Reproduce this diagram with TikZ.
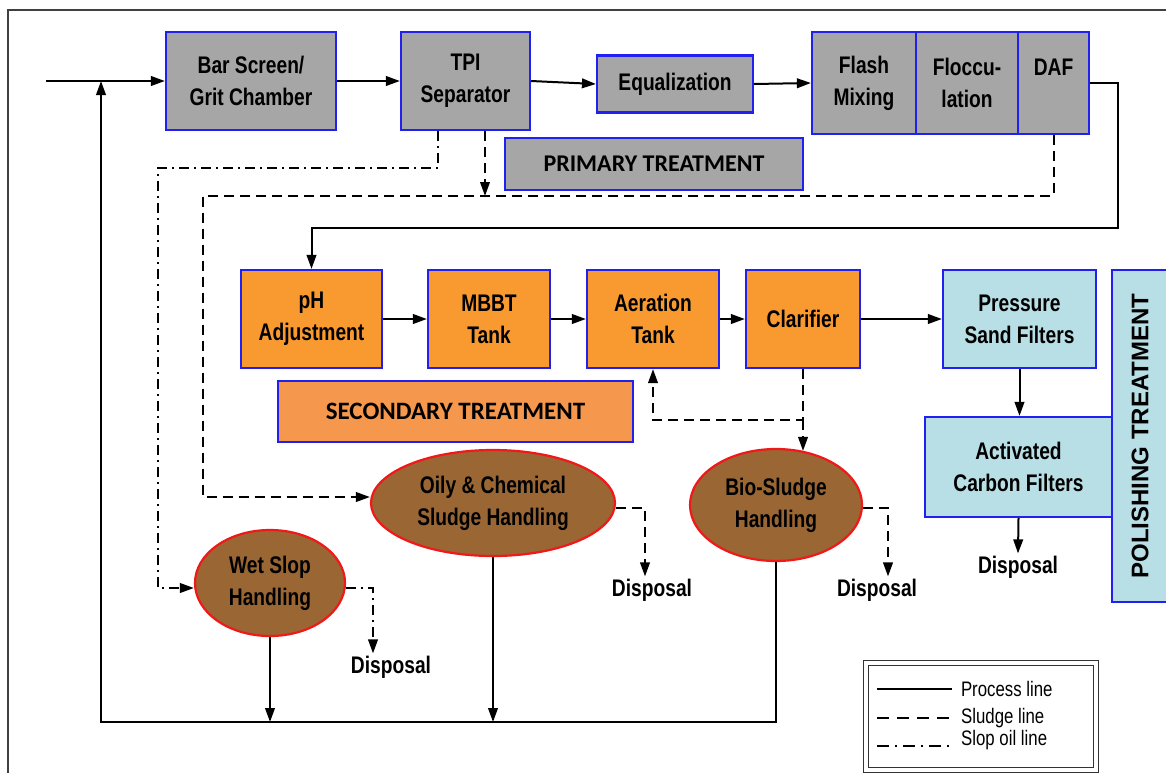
\documentclass[tikz,border=0pt]{standalone}
\usepackage{fontspec}
\setmainfont{Liberation Sans}
\newfontfamily\narrowfont[FakeStretch=0.8]{Liberation Sans}
\newfontfamily\titlefont{Carlito}
\usetikzlibrary{positioning,arrows.meta,calc,shapes.geometric}
\definecolor{boxgray}{HTML}{A6A6A6}
\definecolor{boxblue}{HTML}{2020F0}
\definecolor{unitorange}{HTML}{F89A2F}
\definecolor{titleorange}{HTML}{F5984D}
\definecolor{filtblue}{HTML}{B8DFE6}
\definecolor{sludgebrown}{HTML}{9A6633}
\definecolor{rimred}{HTML}{F01818}
\tikzset{
  unit/.style={draw=boxblue,line width=1.1pt,inner sep=0pt,align=center,
    font=\narrowfont\bfseries\fontsize{12}{16}\selectfont},
  primunit/.style={unit,fill=boxgray},
  secunit/.style={unit,fill=unitorange},
  polunit/.style={unit,fill=filtblue},
  stagelbl/.style={draw=boxblue,line width=1.1pt,inner sep=0pt,
    font=\titlefont\bfseries\fontsize{12.5}{14}\selectfont},
  handler/.style={ellipse,draw=rimred,fill=sludgebrown,line width=1.1pt,inner sep=0pt,
    align=center,font=\narrowfont\bfseries\fontsize{12}{16}\selectfont},
  dispo/.style={inner sep=1pt,font=\narrowfont\bfseries\fontsize{12}{14}\selectfont},
  flow/.style={-{Triangle[length=7pt,width=4.8pt]},line width=1pt},
  sludge/.style={flow,dash pattern=on 5pt off 3pt},
  slop/.style={flow,dash pattern=on 5pt off 2.5pt on 1pt off 2.5pt},
  legtxt/.style={anchor=west,inner sep=0pt,font=\narrowfont\fontsize{10.5}{12}\selectfont},
}
\begin{document}
\begin{tikzpicture}[x=0.5pt,y=-0.5pt]
  \useasboundingbox (0,0) rectangle (1166,772);
  % outer frame (cut at right and bottom)
  \draw[line width=1pt,black!75] (1175,10) -- (8,10) -- (8,780);

  % primary treatment
  \node[primunit,minimum width=85pt,minimum height=49pt] (bar) at (251,81) {Bar Screen/\\Grit Chamber};
  \node[primunit,minimum width=64.5pt,minimum height=49pt] (tpi) at (465.5,81) {TPI\\Separator};
  \node[primunit,minimum width=78pt,minimum height=28.5pt] (eq) at (675,84) {Equalization};
  \node[primunit,minimum width=52pt,minimum height=51pt] (flash) at (864,83) {Flash\\Mixing};
  \node[primunit,minimum width=51pt,minimum height=51pt] (flocc) at (967,83) {Floccu-\\lation};
  \node[primunit,minimum width=35.5pt,minimum height=51pt] (daf) at (1053.5,83) {DAF\\\phantom{X}};
  \node[stagelbl,fill=boxgray,minimum width=149pt,minimum height=26pt,
    font=\titlefont\bfseries\fontsize{12}{14}\selectfont] (prim) at (654,164) {PRIMARY TREATMENT};

  % secondary treatment
  \node[secunit,minimum width=70.5pt,minimum height=49pt] (ph) at (311.5,319) {pH\\Adjustment};
  \node[secunit,minimum width=61pt,minimum height=49pt] (mbbt) at (489,319) {MBBT\\Tank};
  \node[secunit,minimum width=66pt,minimum height=49pt] (aer) at (653,319) {Aeration\\Tank};
  \node[secunit,minimum width=57pt,minimum height=49pt] (clar) at (803,319) {Clarifier};
  \node[stagelbl,fill=titleorange,minimum width=177.5pt,minimum height=30.5pt] (sec) at (455.5,411.5) {SECONDARY TREATMENT};

  % polishing treatment
  \node[polunit,minimum width=76.5pt,minimum height=49pt] (psf) at (1019.5,319) {Pressure\\Sand Filters};
  \node[polunit,minimum width=93.5pt,minimum height=50pt] (acf) at (1018.5,467) {Activated\\Carbon Filters};
  \node[polunit,rotate=90,minimum width=166pt,minimum height=28pt,
    font=\bfseries\fontsize{12}{13}\selectfont] (pol) at (1140,436) {POLISHING TREATMENT};

  % sludge / slop handling
  \node[handler,minimum width=122pt,minimum height=53pt] (oily) at (493,503) {Oily \& Chemical\\Sludge Handling};
  \node[handler,minimum width=86pt,minimum height=56pt] (bio) at (776,505) {Bio-Sludge\\Handling};
  \node[handler,minimum width=75pt,minimum height=53pt] (wet) at (270,583) {Wet Slop\\Handling};

  \node[dispo] (oilydisp) at (652,590) {Disposal};
  \node[dispo] (biodisp) at (877,590) {Disposal};
  \node[dispo] (wetdisp) at (391,667) {Disposal};
  \node[dispo] (acfdisp) at (1018,567) {Disposal};

  \coordinate (in) at (46,81);
  \coordinate (ret) at (101,722);
  \coordinate (dafturn) at (1118,228);
  \coordinate (slopturn) at (158,168);
  \coordinate (sludgebus) at (203,196);
  \coordinate (clarjn) at (803,420);
  \coordinate (tpisl) at ($(tpi.south)+(19.5,0)$);
  \coordinate (tpislop) at ($(tpi.south)+(-27.5,0)$);

  % process lines
  \draw[flow] (in) -- (bar.west);
  \draw[flow] (bar) -- (tpi);
  \draw[flow] (tpi.east) -- (eq.west);
  \draw[flow] (eq.east) -- (flash.west);
  \draw[flow] (daf.east) -| (dafturn) -| (ph.north);
  \foreach \a/\b in {ph/mbbt,mbbt/aer,aer/clar,clar/psf}
    \draw[flow] (\a) -- (\b);
  \draw[flow] (psf.south) -- (psf.south|-acf.north);
  \draw[flow] (acf.south) -- (acfdisp.north);
  \draw[flow] (wet.south) -- (wet.south|-ret);
  \draw[flow] (oily.south) -- (oily.south|-ret);
  \draw[flow] (bio.south) |- (ret) -- (ret|-in);

  % sludge lines
  \draw[sludge] (tpisl) -- (tpisl|-sludgebus);
  \draw[sludge] (daf.south) |- (sludgebus) |- ($(oily.west)+(0,-6)$);
  \draw[sludge] (clar.south) -- (clarjn) -| (aer.south);
  \draw[sludge] (clarjn) -- ([yshift=-1.5pt]clarjn|-bio.north);
  \draw[sludge] ($(oily.east)+(0,5)$) -| ([xshift=-3.5pt]oilydisp.north);
  \draw[sludge] ($(bio.east)+(0,3)$) -| ([xshift=5.5pt]biodisp.north);

  % slop oil lines
  \draw[slop] (tpislop) |- (slopturn) |- ($(wet.west)+(0,5)$);
  \draw[slop] ($(wet.east)+(0,5)$) -| ([xshift=-9pt]wetdisp.north);

  % legend
  \draw[line width=0.6pt,double,double distance=1.6pt,black!80] (866,663) rectangle (1096,770);
  \draw[line width=1pt] (877,689) -- (952,689) node[legtxt,right=4pt] {Process line};
  \draw[line width=1.2pt,dash pattern=on 6pt off 4pt] (877,718) -- (952,718) node[legtxt,right=4pt] {Sludge line};
  \draw[line width=1.2pt,dash pattern=on 6pt off 3pt on 1pt off 3pt] (877,746) -- (952,746) node[legtxt,right=4pt,yshift=3pt] {Slop oil line};
\end{tikzpicture}
\end{document}
